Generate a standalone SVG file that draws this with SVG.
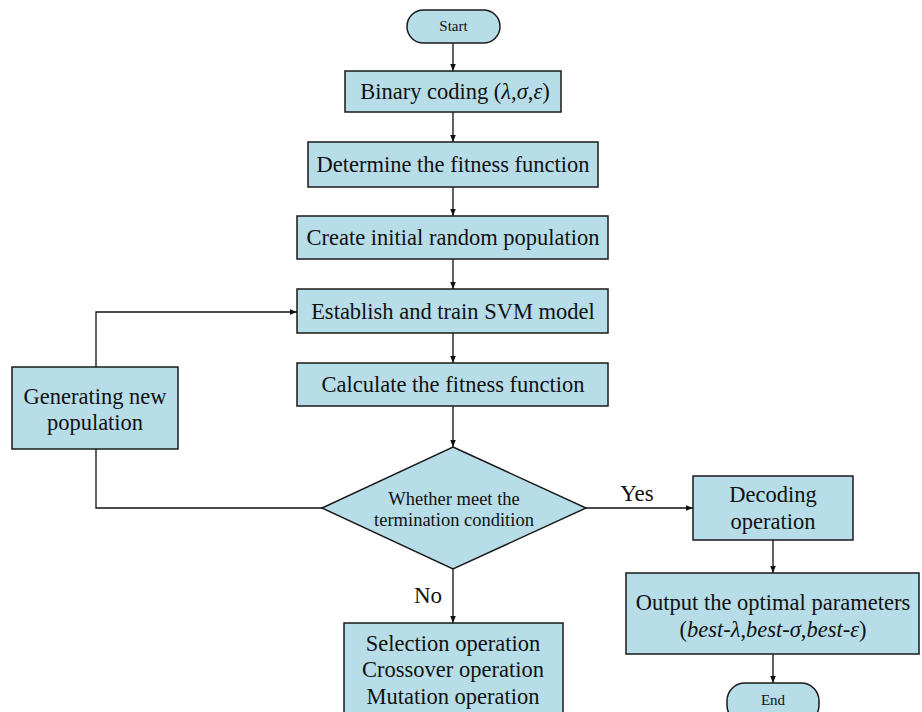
<svg xmlns="http://www.w3.org/2000/svg" width="922" height="712" viewBox="0 0 922 712">
<style>
.box{fill:#b7dde8;stroke:#1a1a1a;stroke-width:1.5}
.t{font-family:"Liberation Serif","Times New Roman",Times,serif;font-size:22.5px;fill:#111;text-anchor:middle}
.s{font-size:18.5px}
.xs{font-size:15px}
.lbl{font-size:23px}
.line{fill:none;stroke:#111;stroke-width:1.3;marker-end:url(#ah)}
.plain{fill:none;stroke:#111;stroke-width:1.3}
</style>
<defs>
<marker id="ah" viewBox="0 0 10 10" refX="10" refY="5" markerWidth="7" markerHeight="7" markerUnits="userSpaceOnUse" orient="auto">
<path d="M0,1 L10,5 L0,9 z" fill="#111"/>
</marker>
</defs>
<rect width="922" height="712" fill="#fff"/>
<g id="connectors">
<line class="line" x1="453" y1="43" x2="453" y2="71"/>
<line class="line" x1="453" y1="112" x2="453" y2="142"/>
<line class="line" x1="453" y1="187" x2="453" y2="216"/>
<line class="line" x1="453" y1="259" x2="453" y2="289"/>
<line class="line" x1="453" y1="333" x2="453" y2="363"/>
<line class="line" x1="453" y1="406" x2="453" y2="447"/>
<line class="line" x1="453" y1="569" x2="453" y2="623"/>
<line class="line" x1="586" y1="508" x2="693" y2="508"/>
<line class="line" x1="773" y1="540" x2="773" y2="573"/>
<line class="line" x1="773" y1="654" x2="773" y2="683"/>
<polyline class="plain" points="322,508 96,508 96,449"/>
<polyline class="line" points="96,367 96,312 297,312"/>
<text class="t lbl" x="428" y="603">No</text>
<text class="t lbl" x="637" y="501">Yes</text>
</g>
<g id="start">
<rect class="box" x="407" y="10" width="93" height="33" rx="16.5"/>
<text class="t xs" x="453.5" y="31">Start</text>
</g>
<g id="binary">
<rect class="box" x="345" y="71" width="216" height="41"/>
<text class="t" x="455" y="99">Binary coding (<tspan font-style="italic">λ</tspan>,<tspan font-style="italic">σ</tspan>,<tspan font-style="italic">ε</tspan>)</text>
</g>
<g id="determine">
<rect class="box" x="308" y="142" width="290" height="45"/>
<text class="t" x="453" y="172">Determine the fitness function</text>
</g>
<g id="create">
<rect class="box" x="297" y="216" width="311" height="43"/>
<text class="t" x="453" y="245">Create initial random population</text>
</g>
<g id="establish">
<rect class="box" x="297" y="289" width="311" height="44"/>
<text class="t" x="453" y="319">Establish and train SVM model</text>
</g>
<g id="calculate">
<rect class="box" x="297" y="363" width="311" height="43"/>
<text class="t" x="453" y="392">Calculate the fitness function</text>
</g>
<g id="generating">
<rect class="box" x="12" y="367" width="166" height="82"/>
<text class="t" x="95" y="404">Generating new</text>
<text class="t" x="95" y="430">population</text>
</g>
<g id="decision">
<polygon class="box" points="453,447 586,508 453,569 322,508"/>
<text class="t s" x="454" y="505">Whether meet the</text>
<text class="t s" x="454" y="526">termination condition</text>
</g>
<g id="selection">
<rect class="box" x="344" y="623" width="219" height="100"/>
<text class="t" x="453" y="651">Selection operation</text>
<text class="t" x="453" y="677">Crossover operation</text>
<text class="t" x="453" y="704">Mutation operation</text>
</g>
<g id="decoding">
<rect class="box" x="693" y="476" width="160" height="64"/>
<text class="t" x="773" y="502">Decoding</text>
<text class="t" x="773" y="529">operation</text>
</g>
<g id="output">
<rect class="box" x="626" y="573" width="293" height="81"/>
<text class="t" x="773" y="610">Output the optimal parameters</text>
<text class="t" x="773" y="637">(<tspan font-style="italic">best-λ</tspan>,<tspan font-style="italic">best-σ</tspan>,<tspan font-style="italic">best-ε</tspan>)</text>
</g>
<g id="end">
<rect class="box" x="727" y="683" width="92" height="40" rx="18"/>
<text class="t xs" x="773" y="705">End</text>
</g>
</svg>
